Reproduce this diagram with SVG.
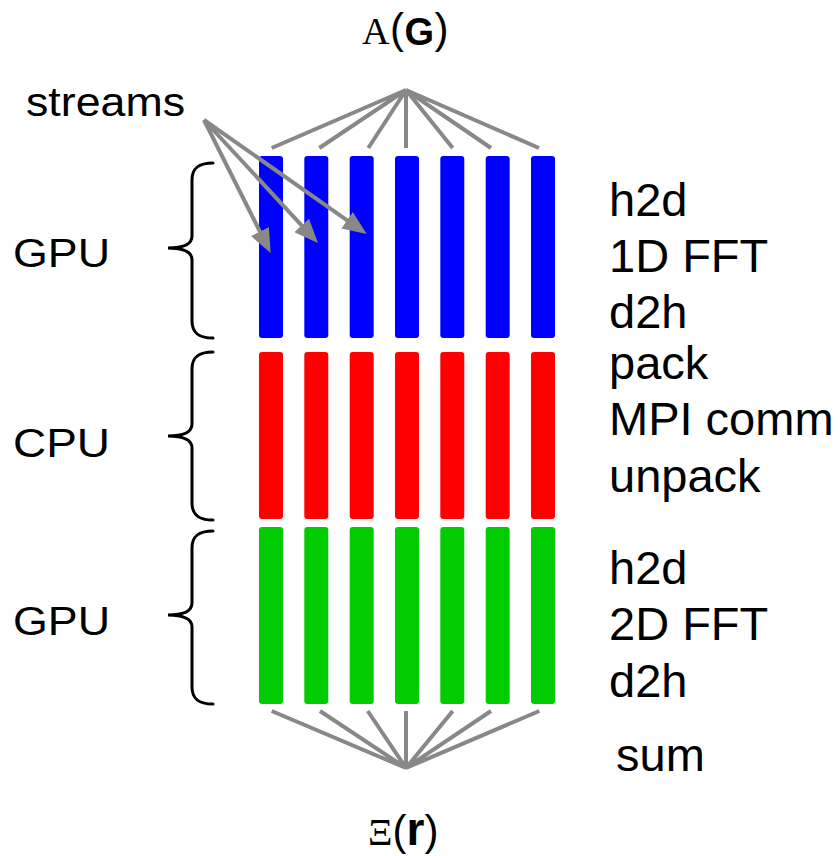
<svg xmlns="http://www.w3.org/2000/svg" width="840" height="856" viewBox="0 0 840 856">
<style>
.t{font-family:"Liberation Sans",Arial,sans-serif;fill:#000}
.s{font-family:"Liberation Serif","Times New Roman",serif}
.bd{font-weight:bold}
.r{font-size:47px}
.l{font-size:41px}
.ln{stroke:#888;stroke-width:4;fill:none}
.br{stroke:#000;stroke-width:3;fill:none;stroke-linecap:round}
.b{fill:#0000ff}.rd{fill:#ff0000}.g{fill:#00cc00}
</style>
<defs>
<marker id="ah" markerWidth="6" markerHeight="5" refX="2" refY="2.5" orient="auto" markerUnits="strokeWidth">
<path d="M0,0 L6,2.5 L0,5 z" fill="#888"/>
</marker>
</defs>
<g id="top-label">
<text class="t" y="43" style="font-size:42px"><tspan class="s" x="362" y="44" style="font-size:38px">A</tspan><tspan x="390" y="43">(</tspan><tspan class="bd" x="404.5" y="45" style="font-size:38px">G</tspan><tspan x="434.5" y="43">)</tspan></text>
</g>
<g id="bottom-label">
<text class="t" y="845" style="font-size:42px"><tspan class="s" x="368" style="font-size:38px">Ξ</tspan><tspan x="392.5">(</tspan><tspan class="bd" x="406.5" style="font-size:46px">r</tspan><tspan x="424.5">)</tspan></text>
</g>
<g id="gpu1-bars">
<rect class="b" x="259" y="156" width="24" height="182" rx="3"/>
<rect class="b" x="304.3" y="156" width="24" height="182" rx="3"/>
<rect class="b" x="349.7" y="156" width="24" height="182" rx="3"/>
<rect class="b" x="395" y="156" width="24" height="182" rx="3"/>
<rect class="b" x="440.3" y="156" width="24" height="182" rx="3"/>
<rect class="b" x="485.7" y="156" width="24" height="182" rx="3"/>
<rect class="b" x="531" y="156" width="24" height="182" rx="3"/>
</g>
<g id="cpu-bars">
<rect class="rd" x="259" y="352" width="24" height="167" rx="3"/>
<rect class="rd" x="304.3" y="352" width="24" height="167" rx="3"/>
<rect class="rd" x="349.7" y="352" width="24" height="167" rx="3"/>
<rect class="rd" x="395" y="352" width="24" height="167" rx="3"/>
<rect class="rd" x="440.3" y="352" width="24" height="167" rx="3"/>
<rect class="rd" x="485.7" y="352" width="24" height="167" rx="3"/>
<rect class="rd" x="531" y="352" width="24" height="167" rx="3"/>
</g>
<g id="gpu2-bars">
<rect class="g" x="259" y="527" width="24" height="177" rx="3"/>
<rect class="g" x="304.3" y="527" width="24" height="177" rx="3"/>
<rect class="g" x="349.7" y="527" width="24" height="177" rx="3"/>
<rect class="g" x="395" y="527" width="24" height="177" rx="3"/>
<rect class="g" x="440.3" y="527" width="24" height="177" rx="3"/>
<rect class="g" x="485.7" y="527" width="24" height="177" rx="3"/>
<rect class="g" x="531" y="527" width="24" height="177" rx="3"/>
</g>
<g id="connectors">
<path class="ln" d="M406,90 L271.7,148 M406,90 L319.3,148 M406,90 L368.3,148 M406,90 L406,148 M406,90 L452.7,148 M406,90 L491,148 M406,90 L539,148"/>
<path class="ln" d="M406,768 L271.7,711 M406,768 L320,711 M406,768 L367.7,711 M406,768 L406,711 M406,768 L452.7,711 M406,768 L491,711 M406,768 L539.3,711"/>
<line class="ln" x1="204" y1="120" x2="263.5" y2="238.7" marker-end="url(#ah)"/>
<line class="ln" x1="204" y1="120" x2="307.1" y2="231.3" marker-end="url(#ah)"/>
<line class="ln" x1="204" y1="120" x2="353.6" y2="224.8" marker-end="url(#ah)"/>
</g>
<g id="braces">
<path class="br" d="M213,163 C200,163 192,167 192,180 L192,236 C192,244 184,248 168,248 C184,248 192,252 192,260 L192,321 C192,334 200,338 213,338"/>
<path class="br" d="M213,352 C200,352 192,356 192,369 L192,424 C192,432 184,436 168,436 C184,436 192,440 192,448 L192,503 C192,516 200,520 213,520"/>
<path class="br" d="M213,531 C200,531 192,535 192,548 L192,603 C192,611 184,615 168,615 C184,615 192,619 192,627 L192,687 C192,700 200,704 213,704"/>
</g>
<g id="left-labels">
<text class="t l" x="26" y="116" textLength="159" lengthAdjust="spacingAndGlyphs">streams</text>
<text class="t l" x="13" y="267" textLength="97" lengthAdjust="spacingAndGlyphs">GPU</text>
<text class="t l" x="13" y="457" textLength="97" lengthAdjust="spacingAndGlyphs">CPU</text>
<text class="t l" x="13" y="635" textLength="97" lengthAdjust="spacingAndGlyphs">GPU</text>
</g>
<g id="right-labels">
<text class="t r" x="609" y="216">h2d</text>
<text class="t r" x="609" y="272">1D FFT</text>
<text class="t r" x="609" y="328">d2h</text>
<text class="t r" x="609" y="379">pack</text>
<text class="t r" x="609" y="435">MPI comm</text>
<text class="t r" x="609" y="492">unpack</text>
<text class="t r" x="609" y="584">h2d</text>
<text class="t r" x="609" y="640">2D FFT</text>
<text class="t r" x="609" y="697">d2h</text>
<text class="t r" x="616" y="771">sum</text>
</g>
</svg>
